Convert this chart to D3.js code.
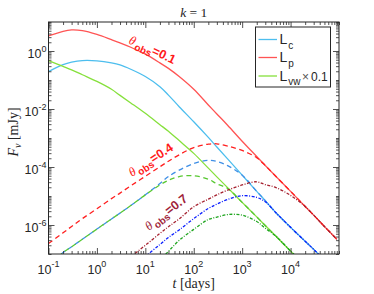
<!DOCTYPE html>
<html>
<head>
<meta charset="utf-8">
<script src="https://cdn.jsdelivr.net/npm/d3@7"></script>
<style>
  body { margin: 0; background: #fff; }
  svg { display: block; }
</style>
</head>
<body>
<svg id="chart"></svg>
<script>
// time grid [days]
const days = [0.1, 0.2, 0.3, 0.5, 1, 2, 3, 5, 10, 20, 30, 50, 100, 200, 300, 500, 1000, 2000, 3000, 5000, 1e4, 2e4, 3e4, 5e4, 9e4];

// log10 of F_nu [mJy], one value per entry of days
// theta_obs = 0.1 (solid)
const lc01  = [-0.71, -0.47, -0.385, -0.33, -0.34, -0.41, -0.48, -0.63, -0.88, -1.23, -1.52, -1.92, -2.44, -2.98, -3.31, -3.72, -4.28, -4.84, -5.16, -5.58, -6.08, -6.56, -6.84, -7.2, -7.6];
const lp01  = [0.52, 0.68, 0.725, 0.70, 0.57, 0.39, 0.28, 0.13, -0.11, -0.41, -0.60, -0.88, -1.32, -1.86, -2.17, -2.56, -3.11, -3.64, -3.95, -4.33, -4.84, -5.36, -5.66, -6.05, -6.49];
const lvw01 = [-0.33, -0.53, -0.65, -0.82, -1.05, -1.32, -1.53, -1.79, -2.15, -2.54, -2.77, -3.09, -3.53, -4.04, -4.34, -4.71, -5.22, -5.72, -6.02, -6.39, -6.9, -7.4, -7.7, -8.1, -8.5];
// theta_obs = 0.4 (dashed)
const lp04  = [-6.64, -6.27, -6.05, -5.78, -5.44, -5.09, -4.90, -4.65, -4.32, -3.99, -3.80, -3.58, -3.33, -3.21, -3.20, -3.28, -3.43, -3.68, -3.95, -4.33, -4.84, -5.36, -5.66, -6.05, -6.49];
const lc04  = [-7.4, -6.95, -6.75, -6.49, -6.14, -5.79, -5.59, -5.33, -4.96, -4.57, -4.33, -4.11, -3.88, -3.77, -3.81, -3.95, -4.28, -4.84, -5.16, -5.58, -6.08, -6.56, -6.84, -7.2, -7.6];
const lvw04 = [-7.4, -6.95, -6.75, -6.49, -6.14, -5.79, -5.59, -5.33, -4.96, -4.62, -4.46, -4.33, -4.30, -4.42, -4.58, -4.74, -5.22, -5.72, -6.02, -6.39, -6.9, -7.4, -7.7, -8.1, -8.5];
// theta_obs = 0.7 (dash-dot)
const lp07  = [-9.0, -8.7, -8.5, -8.3, -8.0, -7.64, -7.4, -7.1, -6.70, -6.29, -6.06, -5.79, -5.37, -5.11, -4.96, -4.80, -4.62, -4.51, -4.61, -4.71, -4.98, -5.36, -5.66, -6.05, -6.49];
const lc07  = [-9.5, -9.2, -9.0, -8.8, -8.5, -8.1, -7.85, -7.5, -7.09, -6.67, -6.43, -6.17, -5.78, -5.43, -5.28, -5.12, -4.99, -5.05, -5.2, -5.58, -6.08, -6.56, -6.84, -7.2, -7.6];
const lvw07 = [-10, -9.7, -9.5, -9.2, -8.9, -8.5, -8.2, -7.9, -7.7, -7.21, -6.91, -6.53, -6.15, -5.81, -5.73, -5.64, -5.66, -5.88, -6.11, -6.39, -6.9, -7.4, -7.7, -8.1, -8.5];

const xTickExp = [-1, 0, 1, 2, 3, 4];
const yTickExp = [-6, -4, -2, 0];
const legendNames = [["L", "c", ""], ["L", "p", ""], ["L", "vw", "\u00d7 0.1"]];

const W = 374, H = 294;
const pLeft = 48.5, pRight = 339, pTop = 22, pBottom = 254;
const axisColor = "#262626";

const svg = d3.select("#chart").attr("width", W).attr("height", H);

const x = d3.scaleLog().domain([0.1, 1e5]).range([pLeft, pRight]);
const y = d3.scaleLog().domain([1e-7, 10]).range([pBottom, pTop]);

svg.append("defs").append("clipPath").attr("id", "plotclip")
    .append("rect")
    .attr("x", pLeft).attr("y", pTop)
    .attr("width", pRight - pLeft).attr("height", pBottom - pTop);

const series = [
    {v: lc01,  color: "#4dbeee", dash: null},
    {v: lp01,  color: "#ff5454", dash: null},
    {v: lvw01, color: "#86e03c", dash: null},
    {v: lp04,  color: "#ff1f1f", dash: "5,3.5"},
    {v: lc04,  color: "#3f8fe6", dash: "5,3.5"},
    {v: lvw04, color: "#58c832", dash: "5,3.5", offset: 4},
    {v: lp07,  color: "#a5202e", dash: "3,1.5,1,1.5"},
    {v: lc07,  color: "#0a1eff", dash: "3,1.5,1,1.5"},
    {v: lvw07, color: "#1fa51f", dash: "3,1.5,1,1.5"}
];

const line = d3.line()
    .x((d, i) => x(days[i]))
    .y(d => y(Math.pow(10, d)))
    .curve(d3.curveCatmullRom.alpha(0.5));

const plot = svg.append("g").attr("clip-path", "url(#plotclip)");

plot.selectAll("path")
    .data(series)
    .enter()
    .append("path")
    .attr("d", s => line(s.v))
    .attr("fill", "none")
    .attr("stroke", s => s.color)
    .attr("stroke-width", 1.3)
    .attr("stroke-dasharray", s => s.dash)
    .attr("stroke-dashoffset", s => s.offset || 0);

// ticks (inside, on all four sides)
const xMajor = xTickExp.map(e => Math.pow(10, e));
const yMajor = yTickExp.map(e => Math.pow(10, e));
const isMajor = (list, v) => list.some(m => Math.abs(Math.log10(v) - Math.log10(m)) < 1e-6);
const xMinor = x.ticks().filter(v => !isMajor(xMajor, v));
const yMinor = y.ticks().filter(v => !isMajor(yMajor, v));

function ticks(gen, transform, values, size) {
    svg.append("g")
        .attr("transform", transform)
        .call(gen.tickValues(values).tickSizeInner(size).tickSizeOuter(0).tickFormat(""))
        .call(g => g.select(".domain").remove())
        .call(g => g.selectAll(".tick line").attr("stroke", axisColor).attr("stroke-width", 0.8));
}

ticks(d3.axisBottom(x), `translate(0,${pBottom})`, xMajor, -6);
ticks(d3.axisBottom(x), `translate(0,${pBottom})`, xMinor, -3);
ticks(d3.axisTop(x), `translate(0,${pTop})`, xMajor, -6);
ticks(d3.axisTop(x), `translate(0,${pTop})`, xMinor, -3);
ticks(d3.axisLeft(y), `translate(${pLeft},0)`, yMajor, -6);
ticks(d3.axisLeft(y), `translate(${pLeft},0)`, yMinor, -3);
ticks(d3.axisRight(y), `translate(${pRight},0)`, yMajor, -6);
ticks(d3.axisRight(y), `translate(${pRight},0)`, yMinor, -3);

svg.append("rect")
    .attr("x", pLeft).attr("y", pTop)
    .attr("width", pRight - pLeft).attr("height", pBottom - pTop)
    .attr("fill", "none")
    .attr("stroke", axisColor)
    .attr("stroke-width", 1);

// tick labels 10^n
const sans = "Liberation Sans, Arial, sans-serif";
const serif = "Liberation Serif, Times New Roman, serif";

const tickLab = svg.append("g")
    .attr("font-family", sans)
    .attr("fill", axisColor);

xTickExp.forEach(e => {
    const t = tickLab.append("text")
        .attr("x", x(Math.pow(10, e)))
        .attr("y", 274)
        .attr("text-anchor", "middle")
        .attr("font-size", 12.5);
    t.append("tspan").text("10");
    t.append("tspan").attr("dy", -7).attr("font-size", 9).text(e);
});

yTickExp.forEach(e => {
    const t = tickLab.append("text")
        .attr("x", pLeft - 2)
        .attr("y", y(Math.pow(10, e)) + 7)
        .attr("text-anchor", "end")
        .attr("font-size", 12.5);
    t.append("tspan").text("10");
    t.append("tspan").attr("dy", -6).attr("font-size", 9).text(e);
});

// title and axis labels
const title = svg.append("text")
    .attr("x", (pLeft + pRight) / 2).attr("y", 16.5)
    .attr("text-anchor", "middle")
    .attr("font-family", serif)
    .attr("font-size", 13.5)
    .attr("fill", axisColor);
title.append("tspan").attr("font-style", "italic").text("k");
title.append("tspan").text(" = 1");

const xTitle = svg.append("text")
    .attr("x", (pLeft + pRight) / 2).attr("y", 288)
    .attr("text-anchor", "middle")
    .attr("font-family", serif)
    .attr("font-size", 14)
    .attr("fill", axisColor);
xTitle.append("tspan").attr("font-style", "italic").text("t");
xTitle.append("tspan").text(" [days]");

const yTitle = svg.append("text")
    .attr("transform", `translate(18,132) rotate(-90)`)
    .attr("text-anchor", "middle")
    .attr("font-family", serif)
    .attr("font-size", 14)
    .attr("fill", axisColor);
yTitle.append("tspan").attr("font-style", "italic").text("F");
yTitle.append("tspan").attr("font-style", "italic").attr("font-size", 10).attr("dy", 3).text("\u03bd");
yTitle.append("tspan").attr("dy", -3).text(" [mJy]");

// theta_obs labels on the curves
const thetaLabels = [
    {val: "0.1", x: 128, y: 43,  angle: 25,  color: "#ff1a1a"},
    {val: "0.4", x: 132, y: 177, angle: -33, color: "#ff1a1a"},
    {val: "0.7", x: 149, y: 231, angle: -38, color: "#a01f3a"}
];

thetaLabels.forEach(l => {
    const t = svg.append("text")
        .attr("transform", `translate(${l.x},${l.y}) rotate(${l.angle})`)
        .attr("fill", l.color)
        .attr("font-size", 12.5);
    t.append("tspan").attr("font-family", serif).attr("font-style", "italic").text("\u03b8");
    t.append("tspan").attr("font-family", sans).attr("font-weight", "bold")
        .attr("font-size", 10).attr("dx", 1.5).attr("dy", 3.5).text("obs");
    t.append("tspan").attr("font-family", sans).attr("font-weight", "bold")
        .attr("dy", -3.5).text("=" + l.val);
});

// legend
const legend = svg.append("g");
legend.append("rect")
    .attr("x", 255.5).attr("y", 27)
    .attr("width", 75).attr("height", 60)
    .attr("fill", "#fff")
    .attr("stroke", axisColor)
    .attr("stroke-width", 1);

const legendY = [39.5, 57.5, 76];
legendNames.forEach((n, i) => {
    legend.append("line")
        .attr("x1", 258.5).attr("x2", 277)
        .attr("y1", legendY[i]).attr("y2", legendY[i])
        .attr("stroke", series[i].color)
        .attr("stroke-width", 1.3);
    const t = legend.append("text")
        .attr("x", 279.5).attr("y", legendY[i] + 4.5)
        .attr("font-family", sans)
        .attr("font-size", 14)
        .attr("fill", axisColor);
    t.append("tspan").text(n[0]);
    t.append("tspan").attr("font-size", 10).attr("dx", 1).attr("dy", 4.5).text(n[1]);
    if (n[2]) {
        t.append("tspan").attr("dy", -4.5).attr("dx", 1.5).attr("fill", "#555").attr("font-size", 12).text("\u00d7");
        t.append("tspan").attr("dx", 2).attr("font-size", 12).text("0.1");
    }
});
</script>
</body>
</html>
